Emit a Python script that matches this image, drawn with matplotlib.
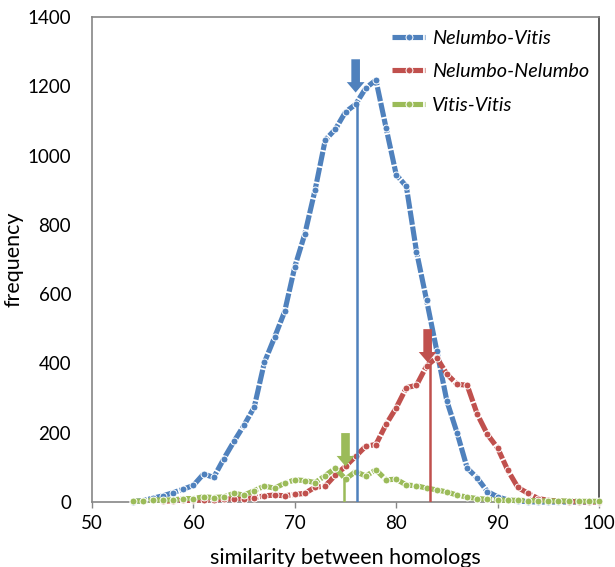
import numpy as np
import matplotlib
matplotlib.use('Agg')
from matplotlib import pyplot as plt

plt.rcParams['font.family'] = ['Lato', 'DejaVu Sans']

# similarity (%) categories and frequencies
similarity = list(range(54, 101))

nelumbo_vitis = [1, 4, 11, 18, 27, 37, 48, 81, 71, 125,
                 175, 222, 274, 403, 475, 550, 679, 775, 901, 1045,
                 1076, 1126, 1148, 1195, 1218, 1080, 945, 911, 723, 582,
                 437, 291, 200, 98, 69, 30, 15, 6, 3, 1,
                 0, 0, 0, 0, 0, 0, 0]

nelumbo_nelumbo = [None, None, None, 2, 4, 5, 5, 6, 6, 8,
                   10, 10, 12, 18, 20, 18, 22, 25, 43, 46,
                   78, 103, 132, 161, 166, 224, 272, 330, 337, 393,
                   417, 369, 340, 337, 253, 195, 156, 92, 42, 25,
                   10, 5, 3, 1, 1, 0, 0]

vitis_vitis = [4, 2, 6, 6, 6, 10, 10, 15, 13, 15,
               25, 20, 33, 46, 40, 54, 64, 62, 56, 76,
               98, 66, 88, 75, 93, 64, 66, 49, 47, 40,
               35, 29, 20, 14, 10, 8, 6, 5, 5, 4,
               4, 3, 3, 3, 2, 2, 2]

labels = ['Nelumbo-Vitis', 'Nelumbo-Nelumbo', 'Vitis-Vitis']
colors = ['#4F81BD', '#C0504D', '#9BBB59']

# mean similarity of each group (vertical lines) and arrow markers
mean_line_x = [76.15, 83.35, 74.85]
arrow_x = [76.0, 83.1, 75.0]
arrow_tip = [1182, 403, 103]
arrow_len = 96
arrow_head = 30

fig = plt.figure(figsize=(6.15, 5.67), dpi=100)
ax = fig.add_axes([0.1496, 0.1146, 0.8244, 0.8554])

series = [nelumbo_vitis, nelumbo_nelumbo, vitis_vitis]
x = np.array(similarity, dtype=float)
for vals, lab, c in zip(series, labels, colors):
    y = np.array([np.nan if v is None else v for v in vals], dtype=float)
    ax.plot(x, y, color=c, lw=3.7, dashes=[2.8, 0.35], marker='o', ms=5.0,
            mfc=c, mec='white', mew=0.7, label=lab, clip_on=False, zorder=3)

for vals, mx, c in zip(series, mean_line_x, colors):
    y = np.array([np.nan if v is None else v for v in vals], dtype=float)
    ok = ~np.isnan(y)
    top = np.interp(mx, x[ok], y[ok])
    ax.plot([mx, mx], [0, top], color=c, lw=1.8, zorder=4, solid_capstyle='butt')

for ax_x, tip, c in zip(arrow_x, arrow_tip, colors):
    ax.arrow(ax_x, tip + arrow_len, 0, -arrow_len, width=0.85, head_width=1.75,
             head_length=arrow_head, length_includes_head=True,
             color=c, lw=0, zorder=5)

ax.set_xlim(50, 100)
ax.set_ylim(0, 1400)
ax.set_xticks(range(50, 101, 10))
ax.set_yticks(range(0, 1401, 200))
ax.tick_params(axis='x', direction='out', length=4, width=1, color='#868686',
               labelsize=13.5, pad=5)
ax.tick_params(axis='y', length=0, labelsize=13.5, pad=15)
for side in ['left', 'top', 'bottom']:
    ax.spines[side].set_color('#868686')
ax.spines['right'].set_color('#404040')
for s in ax.spines.values():
    s.set_linewidth(1.2)

ax.set_xlabel('similarity between homologs', fontsize=15.5, labelpad=12)
ax.set_ylabel('frequency', fontsize=15.5, labelpad=3)

leg = ax.legend(loc='upper left', bbox_to_anchor=(0.592, 0.973), frameon=False,
                borderaxespad=0, borderpad=0, handlelength=1.65, handletextpad=0.36,
                labelspacing=0.82, numpoints=1, prop={'style': 'italic', 'size': 14.3})

fig.savefig('out.png', dpi=100)
